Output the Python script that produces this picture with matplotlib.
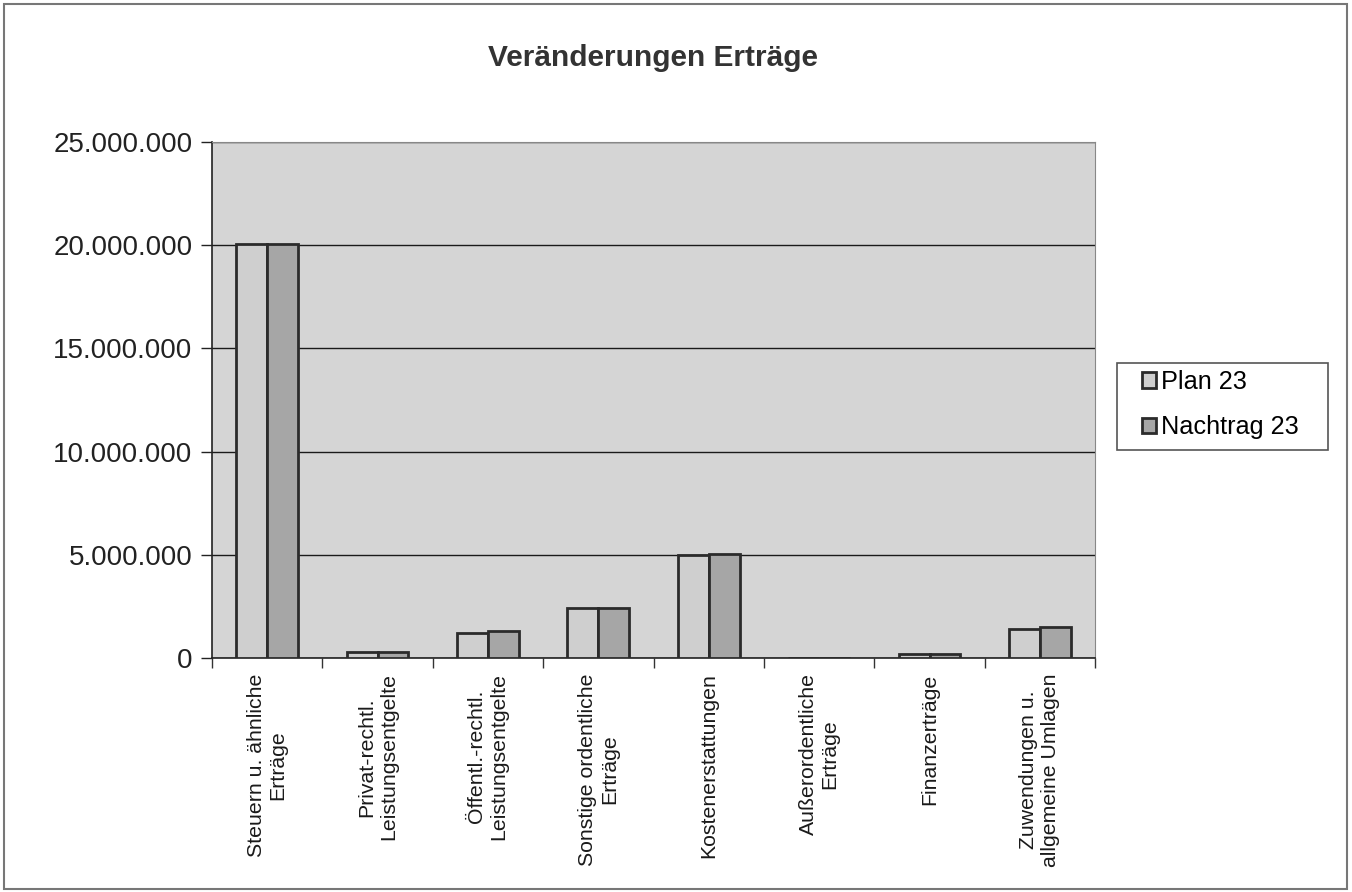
import matplotlib.pyplot as plt
from matplotlib.patches import Rectangle
from matplotlib.ticker import FuncFormatter
import numpy as np

plt.rcParams['font.family'] = ['Liberation Sans', 'DejaVu Sans']

categories = ["Steuern u. ähnliche\nErträge",
              "Privat-rechtl.\nLeistungsentgelte",
              "Öffentl.-rechtl.\nLeistungsentgelte",
              "Sonstige ordentliche\nErträge",
              "Kostenerstattungen",
              "Außerordentliche\nErträge",
              "Finanzerträge",
              "Zuwendungen u.\nallgemeine Umlagen"]
plan_23 = [20050000, 300000, 1220000, 2410000, 4990000, 0, 200000, 1390000]
nachtrag_23 = [20050000, 280000, 1310000, 2410000, 5050000, 0, 200000, 1490000]
yticks = [0, 5000000, 10000000, 15000000, 20000000, 25000000]

W, H = 1352, 892
fig = plt.figure(figsize=(W / 100, H / 100), dpi=100)
ax = fig.add_axes([0.1568, 0.2623, 0.81 - 0.1568, 0.5785])
ax.set_facecolor('#d5d5d5')

x = np.arange(len(categories))
w = 0.28
ax.bar(x - w / 2, plan_23, w, color='#cfcfcf', edgecolor='#2b2b2b', linewidth=2,
       label='Plan 23', zorder=3)
ax.bar(x + w / 2, nachtrag_23, w, color='#a6a6a6', edgecolor='#2b2b2b', linewidth=2,
       label='Nachtrag 23', zorder=3)

ax.set_xlim(-0.5, len(categories) - 0.5)
ax.set_ylim(0, 25000000)
ax.set_yticks(yticks)
ax.yaxis.set_major_formatter(FuncFormatter(lambda v, p: '{:,.0f}'.format(v).replace(',', '.')))
ax.tick_params(axis='y', labelsize=20, length=8, width=1, colors='#222222', pad=6)
ax.yaxis.grid(True, color='#1a1a1a', linewidth=1, zorder=1)

ax.set_xticks(x)
ax.set_xticklabels(categories, rotation=90, fontsize=15.3, ha='center', va='top',
                   multialignment='center', color='#1a1a1a')
ax.tick_params(axis='x', which='major', length=0, pad=11)
ax.set_xticks(np.arange(len(categories) + 1) - 0.5, minor=True)
ax.tick_params(axis='x', which='minor', length=7, width=1, color='#333333')

for s in ['top', 'right']:
    ax.spines[s].set_color('#888888')
for s in ['left', 'bottom']:
    ax.spines[s].set_color('#222222')
    ax.spines[s].set_linewidth(1.2)

# legend without its own frame, the box is drawn separately (Excel-style spacing)
ax.legend(loc='upper left', bbox_to_anchor=(1142 / W, 1 - 370 / H),
          bbox_transform=fig.transFigure, borderaxespad=0, borderpad=0,
          fontsize=18.2, frameon=False, handlelength=0.55, handleheight=0.55,
          handletextpad=0.2, labelspacing=0.85)
fig.patches.append(Rectangle((1117 / W, 1 - 450 / H), 211 / W, 87 / H,
                             transform=fig.transFigure, fill=False,
                             edgecolor='#555555', linewidth=1.2))

fig.text(0.483, 0.935, 'Veränderungen Erträge', ha='center', va='center',
         fontsize=21.5, fontweight='bold', color='#333333')

fig.patches.append(Rectangle((0.003, 0.003), 0.993, 0.992, transform=fig.transFigure,
                             fill=False, edgecolor='#777777', linewidth=1.5))

fig.savefig('out.png', dpi=100)
